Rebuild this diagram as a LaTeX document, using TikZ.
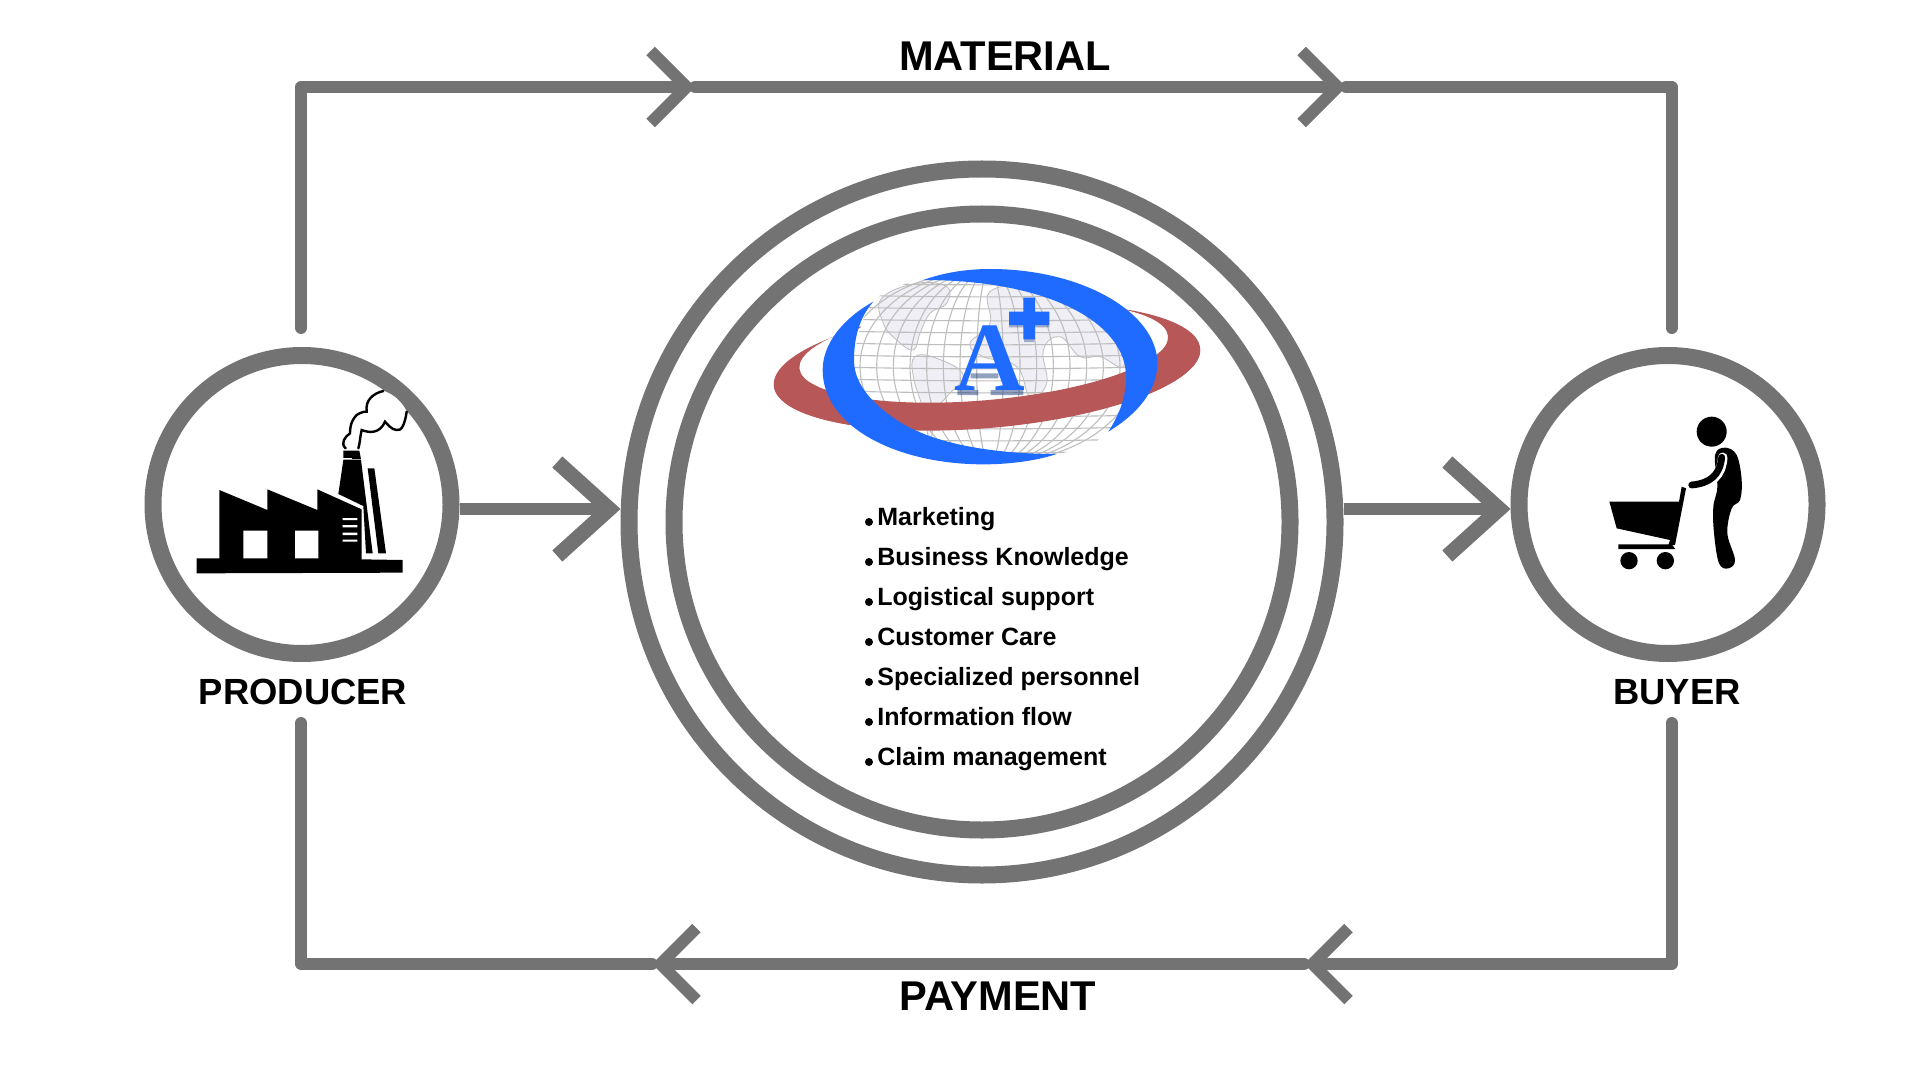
\documentclass[tikz,border=0pt]{standalone}
\usepackage{fontspec}
\setmainfont{Liberation Sans}
\newfontfamily\logofont{Liberation Serif}
\usetikzlibrary{arrows.meta}
\definecolor{ringgrey}{HTML}{737373}
\definecolor{logoblue}{HTML}{1F6BFF}
\definecolor{logored}{HTML}{B85757}
\definecolor{landgrey}{HTML}{EFEFF5}
\definecolor{gridgrey}{HTML}{BEBEBE}
\tikzset{
  ring/.style={draw=ringgrey,circle,line width=8.5pt,inner sep=0pt,fill=white},
  rail/.style={draw=ringgrey,line width=6pt,line cap=round,line join=round},
  railtip/.tip={Straight Barb[length=18pt,width=36pt,line width=6pt]},
  sidetip/.tip={Straight Barb[length=26pt,width=47pt,line width=7.5pt]},
  biglabel/.style={font=\bfseries\fontsize{20.8}{24}\selectfont,anchor=base,inner sep=0pt},
  sidelabel/.style={font=\bfseries\fontsize{18.2}{22}\selectfont,anchor=base,inner sep=0pt},
  itemlabel/.style={font=\bfseries\fontsize{12.5}{15}\selectfont,anchor=base west,inner sep=0pt},
  itemdot/.style={circle,fill=black,inner sep=0pt,minimum size=4pt},
}
\begin{document}
\begin{tikzpicture}[x=0.5pt,y=-0.5pt]
  \useasboundingbox (0,0) rectangle (1920,1080);
  % circles
  \node[ring,minimum size=353pt] (hub) at (982,522) {};
  \node[ring,minimum size=308pt] (hubinner) at (982,522) {};
  \node[ring,minimum size=149pt] (producer) at (302,504.5) {};
  \node[ring,minimum size=149pt] (buyer) at (1668,504.5) {};
  % labels
  \node[biglabel] (material) at (1005,71) {MATERIAL};
  \node[biglabel] (payment) at (998,1010) {PAYMENT};
  \node[sidelabel] (producerlabel) at (303,704) {PRODUCER};
  \node[sidelabel] (buyerlabel) at (1677,704) {BUYER};
  % flows
  \coordinate (flowline) at (0,509);
  \coordinate (prodtop) at (301,328);
  \coordinate (buytop) at (1671.5,328);
  \coordinate (prodbot) at (301,723);
  \coordinate (buybot) at (1671.5,723);
  \coordinate (topa) at (695,87);
  \coordinate (topb) at (1346,87);
  \coordinate (bota) at (652,964);
  \coordinate (botb) at (1304,964);
  \draw[rail,-{railtip}] (prodtop) |- (topa);
  \draw[rail,-{railtip}] (topa) -- (topb);
  \draw[rail] (topb) -| (buytop);
  \draw[rail,-{railtip}] (buybot) |- (botb);
  \draw[rail,-{railtip}] (botb) -- (bota);
  \draw[rail] (bota) -| (prodbot);
  \draw[rail,line cap=butt,-{sidetip}] (producer.east |- flowline) -- (hub.west |- flowline);
  \draw[rail,line cap=butt,-{sidetip}] (hub.east |- flowline) -- (buyer.west |- flowline);
  % list
  \foreach \i/\t in {0/Marketing,1/Business Knowledge,2/Logistical support,3/Customer Care,4/Specialized personnel,5/Information flow,6/Claim management}{
    \node[itemlabel] (item\i) at (877,525+40*\i) {\t};
    \node[itemdot] (dot\i) at (869,522+40*\i) {};
  }
  % logo, ring behind the globe
  \begin{scope}[rotate around={5:(987,367)}]
    \fill[logored,even odd rule] (987,367) ellipse (214 and 61) (985,352) ellipse (185 and 48);
  \end{scope}
  \begin{scope}[shift={(750,250)},x=0.16667pt,y=-0.16667pt]
    \begin{scope}
      \path[clip] plot[smooth cycle,tension=0.6] coordinates {(312,330) (370,155) (520,90) (700,95) (960,150) (1100,270) (1128,400) (1075,545) (920,612) (700,600) (480,540) (350,450)};
      \fill[white] (200,50) rectangle (1240,650);
      % land
      \path[fill=landgrey,draw=gridgrey,line width=0.4pt] plot[smooth cycle,tension=0.7] coordinates {(395,145) (500,100) (590,110) (590,160) (540,190) (510,250) (490,300) (440,270) (400,220)};
      \path[fill=landgrey,draw=gridgrey,line width=0.4pt] plot[smooth cycle,tension=0.7] coordinates {(495,320) (560,325) (640,375) (590,440) (560,480) (540,570) (520,480) (490,380)};
      \path[fill=landgrey,draw=gridgrey,line width=0.4pt] plot[smooth cycle,tension=0.7] coordinates {(720,125) (850,110) (1000,170) (1110,260) (1120,350) (1050,320) (990,320) (930,260) (880,300) (890,400) (840,440) (800,350) (700,320) (660,280) (720,220)};
      % grid
      \foreach \gy in {100,136,...,610}{
        \draw[gridgrey,line width=0.55pt] (300,\gy) .. controls (600,\gy+6) and (850,\gy+6) .. (1140,\gy);
      }
      \foreach \gx in {40,90,...,440}{
        \draw[gridgrey,line width=0.55pt] (720,350) ellipse [x radius=\gx,y radius=290];
      }
    \end{scope}
  \end{scope}
  % front of the ring
  \begin{scope}[rotate around={5:(987,367)}]
    \clip (700,367) rectangle (1300,500);
    \fill[logored,even odd rule] (987,367) ellipse (214 and 61) (985,352) ellipse (185 and 48);
  \end{scope}
  \begin{scope}[shift={(750,250)},x=0.16667pt,y=-0.16667pt]
    % blue crescents
    \fill[logoblue] (370,155) .. controls (280,205) and (218,280) .. (218,360)
      .. controls (218,530) and (440,643) .. (700,643)
      .. controls (780,643) and (860,632) .. (920,612)
      .. controls (760,612) and (560,590) .. (440,510)
      .. controls (350,450) and (312,390) .. (312,330)
      .. controls (312,260) and (330,200) .. (370,155) -- cycle;
    \fill[logoblue] (520,90) .. controls (580,68) and (650,57) .. (720,57)
      .. controls (1000,57) and (1222,190) .. (1222,340)
      .. controls (1222,420) and (1165,490) .. (1075,545)
      .. controls (1110,490) and (1128,440) .. (1128,380)
      .. controls (1128,220) and (900,90) .. (520,90) -- cycle;
    % shadow and letter
    \fill[logoblue!45!black,opacity=0.45] (622,420) rectangle (685,435) (722,420) rectangle (820,435) (662,370) rectangle (745,385);
    \node[font=\logofont\bfseries\fontsize{49}{49}\selectfont,text=logoblue,anchor=base,inner sep=0pt] (logoa) at (720,422) {A};
    \fill[logoblue!45!black,opacity=0.35] (822,262) rectangle (853,276) (777,225) rectangle (898,232);
    \fill[logoblue] (777,185) rectangle (898,225) (820,143) rectangle (855,268);
  \end{scope}
  % factory
  \begin{scope}[shift={(180,380)},x=0.16667pt,y=-0.16667pt]
    \fill[black] (50,535) -- (118,535) -- (118,330) -- (262,390) -- (262,328) -- (412,390) -- (412,328) -- (545,388) -- (545,538) -- (668,540) -- (668,578) -- (50,580) -- cycle;
    \fill[white] (190,452) rectangle (262,535) (345,452) rectangle (415,535);
    \fill[white] (488,414) rectangle (532,420) (488,435) rectangle (532,442) (488,458) rectangle (532,465) (488,479) rectangle (532,485);
    \fill[black] (490,240) -- (543,240) -- (578,520) -- (558,520) -- (550,378) -- (475,342) -- cycle;
    \fill[black] (563,265) -- (583,265) -- (618,520) -- (595,520) -- cycle;
    \fill[black] (490,212) -- (538,212) -- (543,238) -- (490,238) -- cycle;
    \fill[white] (490,234) rectangle (515,238);
    \fill[white] (510,205) .. controls (480,190) and (495,170) .. (510,160)
      .. controls (510,130) and (520,115) .. (530,105)
      .. controls (545,95) and (555,95) .. (560,95)
      .. controls (555,60) and (580,40) .. (610,33)
      .. controls (640,40) and (670,70) .. (680,95)
      .. controls (675,130) and (665,155) .. (650,150)
      .. controls (635,150) and (620,130) .. (615,125)
      .. controls (600,160) and (570,160) .. (545,150)
      .. controls (540,170) and (540,190) .. (535,205) -- cycle;
    \draw[black,line width=1.2pt,line cap=round] (497,205) .. controls (480,190) and (495,170) .. (510,160)
      .. controls (510,130) and (520,115) .. (530,105)
      .. controls (545,95) and (555,95) .. (560,95)
      .. controls (555,60) and (580,40) .. (610,33);
    \draw[black,line width=1.2pt,line cap=round] (680,95) .. controls (675,130) and (665,155) .. (650,150)
      .. controls (635,150) and (620,130) .. (615,125)
      .. controls (600,160) and (570,160) .. (545,150)
      .. controls (540,170) and (540,190) .. (535,205);
  \end{scope}
  % shopper
  \begin{scope}[shift={(1600,400)},x=0.16667pt,y=-0.16667pt]
    \fill[black] (335,95) circle (45);
    \fill[black] plot[smooth cycle,tension=0.6] coordinates {(345,165) (375,143) (410,165) (425,240) (420,300) (395,325) (382,400) (405,480) (385,505) (357,490) (342,400) (340,320) (352,260)};
    \draw[white,line width=4.8pt,line cap=round] (368,172) .. controls (365,225) and (335,255) .. (275,257);
    \draw[black,line width=3.4pt,line cap=round] (365,172) .. controls (360,225) and (330,250) .. (275,255);
    \fill[black] (245,260) -- (258,265) -- (225,435) -- (205,435) -- (210,420) -- (50,385) -- (28,305) -- (237,305) -- cycle;
    \fill[black] (55,433) -- (215,433) -- (226,447) -- (55,447) -- cycle;
    \fill[black] (87,482) circle (26) (196,482) circle (26);
  \end{scope}
\end{tikzpicture}
\end{document}
